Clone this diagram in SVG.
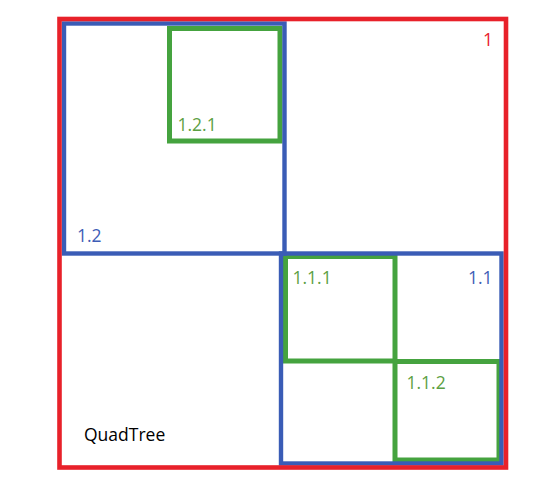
<svg xmlns="http://www.w3.org/2000/svg" width="558" height="484" viewBox="0 0 558 484">
<style>
rect{fill:none}
.r{stroke:#E8212A;stroke-width:4.6}
.b{stroke:#3A5CB6;stroke-width:4.4}
.g{stroke:#45A33F;stroke-width:5}
text{font-family:"Open Sans","Liberation Sans",Arial,sans-serif;font-size:17.5px}
.tr{fill:#E8212A}.tb{fill:#3E5DB6}.tg{fill:#5CA043}.tk{fill:#000}
</style>
<rect x="0" y="0" width="558" height="484" fill="#fff" style="fill:#fff"/>
<g id="n121"><rect class="g" x="169.5" y="28.5" width="110.5" height="112.5"/><text class="tg" x="177.5" y="131">1.2.1</text></g>
<g id="n111"><rect class="g" x="285.5" y="256.5" width="109.5" height="104.5"/><text class="tg" x="292.5" y="283.5">1.1.1</text></g>
<g id="n112"><rect class="g" x="395" y="361.5" width="104" height="98.5"/><text class="tg" x="406.5" y="388.5">1.1.2</text></g>
<g id="n12"><rect class="b" x="64" y="23.5" width="220.5" height="230"/><text class="tb" x="77" y="242">1.2</text></g>
<g id="n11"><rect class="b" x="281" y="253.5" width="220.5" height="210"/><text class="tb" x="468" y="283.5">1.1</text></g>
<g id="n1"><rect class="r" x="59.5" y="19" width="446.5" height="448.5"/><text class="tr" x="483" y="46">1</text></g>
<g id="label"><text class="tk" x="84" y="441">QuadTree</text></g>
</svg>
